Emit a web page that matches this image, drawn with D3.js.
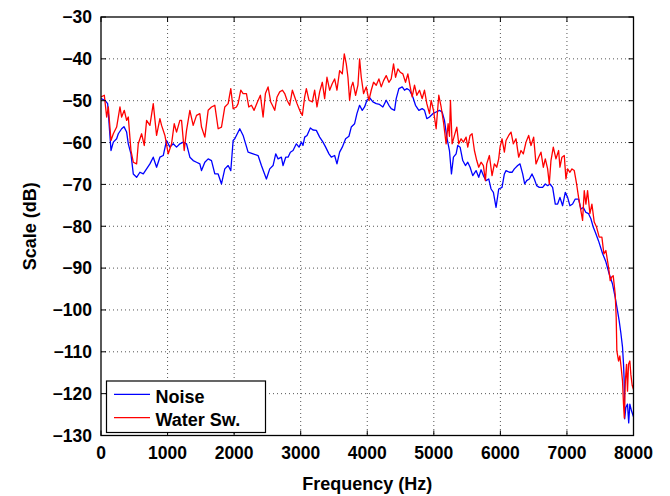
<!DOCTYPE html>
<html><head><meta charset="utf-8">
<script src="https://cdn.jsdelivr.net/npm/d3@7"></script>
<style>body{margin:0;background:#fff}svg{display:block}</style>
</head><body>
<svg id="c" width="670" height="496"></svg>
<script>
const xTicks = [0,1000,2000,3000,4000,5000,6000,7000,8000];
const yTicks = [-30,-40,-50,-60,-70,-80,-90,-100,-110,-120,-130];
const seriesNames = ["Noise","Water Sw."];
const seriesColors = ["#0000ff","#ff0000"];

const noiseHz = [0,60,100,150,185,235,260,310,345,385,410,450,485,535,585,635,685,735,785,835,885,935,985,1035,1085,1135,1185,1235,1285,1335,1385,1435,1485,1510,1560,1610,1660,1710,1760,1810,1860,1910,1950,1985,2010,2085,2135,2210,2285,2360,2410,2485,2535,2585,2625,2660,2710,2735,2775,2810,2845,2885,2935,2975,3010,3035,3060,3095,3145,3185,3235,3285,3335,3375,3425,3460,3510,3545,3585,3625,3675,3725,3760,3810,3845,3885,3925,3960,3995,4035,4085,4135,4185,4235,4285,4325,4360,4410,4435,4475,4525,4560,4595,4635,4685,4725,4775,4825,4860,4895,4935,4985,5035,5085,5125,5160,5195,5235,5265,5295,5335,5360,5395,5435,5475,5510,5545,5585,5635,5675,5710,5745,5785,5825,5860,5895,5935,5975,6025,6060,6085,6135,6175,6210,6260,6295,6335,6365,6395,6435,6475,6510,6545,6585,6635,6675,6710,6745,6785,6825,6860,6895,6935,6975,7010,7045,7085,7125,7175,7210,7245,7285,7325,7360,7395,7425,7475,7535,7585,7635,7685,7725,7760,7785,7810,7835,7850,7860,7868,7885,7910,7928,7945,7970,8000];
const noiseDb = [-49.5,-49.9,-50.7,-61.9,-59.9,-59.1,-57.9,-56.7,-56.2,-57.5,-60.3,-62.7,-67.5,-68.3,-67.1,-67.5,-66.3,-65.1,-63.5,-65.9,-63.5,-63.1,-59.5,-61.1,-60.3,-61.1,-60.3,-59.9,-60.3,-63.5,-64.3,-64.7,-65.1,-66.7,-64.7,-63.9,-64.3,-67.5,-67.5,-69.9,-66.3,-65.5,-66.7,-59.5,-59.1,-56.7,-58.3,-62.3,-62.7,-63.1,-65.5,-68.7,-66.3,-65.5,-62.7,-63.9,-63.5,-65.5,-63.5,-63.5,-62.3,-61.9,-60.3,-61.1,-59.9,-60.7,-58.7,-58.3,-56.5,-57.0,-57.1,-58.7,-59.9,-61.1,-62.7,-63.5,-63.1,-65.1,-62.3,-61.1,-59.1,-58.5,-56.3,-55.5,-53.1,-51.1,-52.3,-51.5,-49.9,-49.3,-50.3,-50.7,-50.9,-51.5,-49.9,-51.1,-51.9,-52.3,-49.5,-47.1,-46.7,-47.5,-47.1,-47.5,-49.1,-51.1,-52.3,-51.9,-52.3,-54.3,-53.9,-53.1,-52.7,-52.3,-52.7,-54.7,-58.7,-61.9,-67.5,-63.5,-62.7,-60.7,-61.1,-64.3,-65.5,-64.7,-65.9,-67.9,-66.7,-68.3,-66.5,-67.9,-69.1,-68.7,-71.1,-71.9,-75.5,-71.1,-70.7,-67.5,-66.7,-67.1,-67.1,-66.3,-65.5,-65.1,-67.5,-69.9,-69.1,-68.7,-67.5,-68.7,-70.3,-70.7,-70.7,-69.9,-70.3,-69.9,-70.7,-74.7,-74.7,-73.1,-75.1,-71.9,-73.1,-75.1,-74.7,-73.5,-73.5,-75.9,-75.5,-76.7,-77.0,-78.2,-80.2,-81.4,-83.5,-86.5,-88.5,-91.4,-93.8,-97.0,-100.2,-102.6,-105.5,-108.9,-112.9,-116.9,-126.0,-123.3,-122.5,-127.0,-122.5,-124.1,-125.5];

const waterHz = [0,50,85,110,150,185,235,285,310,350,385,410,450,485,535,560,610,650,685,735,785,835,885,910,960,1010,1060,1100,1135,1185,1210,1250,1285,1335,1385,1435,1485,1510,1560,1610,1660,1710,1760,1810,1860,1910,1950,1985,2035,2060,2100,2135,2185,2220,2260,2300,2350,2395,2435,2470,2510,2550,2575,2610,2645,2685,2725,2760,2795,2835,2875,2910,2945,2985,3025,3060,3085,3125,3175,3210,3245,3285,3325,3360,3395,3435,3475,3510,3545,3585,3625,3655,3685,3710,3735,3760,3785,3825,3860,3885,3910,3945,3985,4025,4060,4095,4135,4175,4210,4245,4285,4325,4360,4395,4425,4460,4495,4535,4575,4610,4645,4675,4710,4745,4785,4825,4860,4895,4935,4960,4995,5035,5075,5110,5145,5185,5215,5235,5250,5275,5310,5345,5375,5410,5445,5485,5510,5545,5575,5610,5645,5675,5710,5745,5775,5795,5835,5875,5910,5945,5975,5995,6025,6060,6085,6125,6160,6195,6235,6275,6310,6345,6385,6425,6460,6500,6535,6575,6610,6645,6675,6710,6735,6760,6795,6835,6875,6895,6925,6960,6985,7010,7045,7075,7110,7145,7175,7210,7235,7260,7285,7310,7345,7375,7410,7445,7485,7525,7555,7585,7625,7650,7670,7695,7725,7740,7750,7775,7795,7815,7835,7850,7862,7878,7895,7910,7925,7945,7960,7980,8000];
const waterDb = [-49.1,-48.7,-53.9,-51.5,-59.5,-57.9,-56.3,-51.5,-53.9,-52.3,-54.7,-53.9,-61.9,-64.7,-65.1,-60.3,-57.9,-60.7,-54.7,-55.9,-50.7,-58.3,-54.3,-55.9,-58.3,-62.7,-60.3,-55.5,-57.5,-54.7,-54.7,-61.9,-57.1,-52.3,-55.9,-53.5,-53.1,-56.3,-58.7,-52.3,-51.5,-51.1,-56.7,-56.3,-51.5,-50.7,-47.1,-51.9,-51.5,-50.7,-47.5,-48.3,-48.3,-51.5,-51.1,-52.3,-50.3,-48.7,-53.9,-48.3,-46.7,-50.3,-51.1,-52.3,-49.1,-47.9,-47.5,-48.3,-49.9,-51.1,-47.5,-49.1,-50.7,-52.3,-53.5,-49.1,-47.1,-49.9,-50.3,-47.5,-51.5,-47.9,-45.6,-49.5,-44.4,-47.5,-45.9,-44.8,-47.5,-42.8,-43.6,-38.8,-41.2,-44.4,-49.9,-46.7,-45.6,-48.7,-46.3,-40.0,-44.4,-48.3,-46.7,-49.9,-47.5,-45.6,-46.3,-44.8,-46.7,-45.2,-44.0,-45.6,-44.8,-41.2,-44.4,-42.4,-43.2,-43.6,-45.6,-43.6,-46.7,-49.1,-46.3,-48.7,-47.5,-49.5,-47.5,-50.7,-53.1,-49.9,-52.3,-56.7,-48.7,-51.5,-55.1,-60.3,-55.5,-58.5,-49.9,-60.3,-58.3,-56.3,-60.3,-59.1,-59.9,-58.7,-61.1,-58.3,-57.9,-61.9,-64.3,-65.9,-64.7,-65.5,-69.1,-65.1,-63.1,-67.9,-65.1,-65.9,-63.9,-61.1,-59.1,-62.3,-59.5,-58.3,-57.5,-60.3,-59.1,-63.5,-61.9,-62.7,-59.9,-58.3,-60.7,-58.7,-65.1,-63.5,-62.3,-65.9,-63.9,-66.3,-69.9,-64.3,-61.1,-63.9,-61.9,-65.9,-63.5,-63.1,-68.7,-66.3,-67.1,-66.3,-66.7,-69.9,-73.1,-76.3,-78.6,-71.5,-74.7,-71.5,-77.0,-74.7,-79.0,-80.2,-82.6,-82.6,-86.6,-85.8,-89.8,-93.0,-92.2,-91.8,-96.2,-101.8,-109.8,-112.2,-111.0,-113.8,-117.0,-122.5,-125.8,-117.0,-113.0,-119.4,-113.0,-112.2,-115.4,-118.0,-119.0];

const svg = d3.select("#c");
const m = {l:101, t:17, r:633.5, b:435.5};
const x = d3.scaleLinear().domain([0,8000]).range([m.l, m.r]);
const y = d3.scaleLinear().domain([-130,-30]).range([m.b, m.t]);
const font = "'Liberation Sans', Arial, sans-serif";
const fmt = d => (d<0 ? "\u2212"+Math.abs(d) : String(d));

svg.append("defs").append("clipPath").attr("id","clip")
  .append("rect").attr("x",m.l).attr("y",m.t).attr("width",m.r-m.l).attr("height",m.b-m.t);

// grid
const g = svg.append("g");
g.selectAll(".gx").data(xTicks.slice(1,-1)).enter().append("line")
  .attr("x1",d=>x(d)).attr("x2",d=>x(d)).attr("y1",m.t).attr("y2",m.b)
  .attr("stroke","#555").attr("stroke-width",1).attr("stroke-dasharray","1,3");
g.selectAll(".gy").data(yTicks.slice(1,-1)).enter().append("line")
  .attr("y1",d=>y(d)).attr("y2",d=>y(d)).attr("x1",m.l).attr("x2",m.r)
  .attr("stroke","#555").attr("stroke-width",1).attr("stroke-dasharray","1,3");

// lines
const line = d3.line().x(d=>x(d[0])).y(d=>y(d[1]));
const noise = noiseHz.map((h,i)=>[h,noiseDb[i]]);
const water = waterHz.map((h,i)=>[h,waterDb[i]]);
const plot = svg.append("g").attr("clip-path","url(#clip)");
[noise, water].forEach((s,i)=>{
  plot.append("path").datum(s).attr("d",line).attr("fill","none")
    .attr("stroke",seriesColors[i]).attr("stroke-width",1.3).attr("stroke-linejoin","round");
});

// axes (inward ticks, box)
const tl = 5;
const ax = svg.append("g");
ax.selectAll(".tb").data(xTicks).enter().append("line")
  .attr("x1",d=>x(d)).attr("x2",d=>x(d)).attr("y1",m.b).attr("y2",m.b-tl).attr("stroke","#000");
ax.selectAll(".tt").data(xTicks).enter().append("line")
  .attr("x1",d=>x(d)).attr("x2",d=>x(d)).attr("y1",m.t).attr("y2",m.t+tl).attr("stroke","#000");
ax.selectAll(".tl").data(yTicks).enter().append("line")
  .attr("y1",d=>y(d)).attr("y2",d=>y(d)).attr("x1",m.l).attr("x2",m.l+tl).attr("stroke","#000");
ax.selectAll(".tr").data(yTicks).enter().append("line")
  .attr("y1",d=>y(d)).attr("y2",d=>y(d)).attr("x1",m.r).attr("x2",m.r-tl).attr("stroke","#000");
ax.append("rect").attr("x",m.l).attr("y",m.t).attr("width",m.r-m.l).attr("height",m.b-m.t)
  .attr("fill","none").attr("stroke","#000").attr("stroke-width",1.3);

ax.selectAll(".xl").data(xTicks).enter().append("text")
  .attr("x",d=>x(d)).attr("y",459).attr("text-anchor","middle")
  .attr("font-family",font).attr("font-weight","bold").attr("font-size",17.5).text(fmt);
ax.selectAll(".yl").data(yTicks).enter().append("text")
  .attr("x",92).attr("y",d=>y(d)+6.3).attr("text-anchor","end")
  .attr("font-family",font).attr("font-weight","bold").attr("font-size",17.5).text(fmt);

svg.append("text").attr("x",(m.l+m.r)/2).attr("y",490).attr("text-anchor","middle")
  .attr("font-family",font).attr("font-weight","bold").attr("font-size",18).text("Frequency (Hz)");
svg.append("text").attr("transform",`translate(36,${(m.t+m.b)/2}) rotate(-90)`).attr("text-anchor","middle")
  .attr("font-family",font).attr("font-weight","bold").attr("font-size",18).text("Scale (dB)");

// legend
const lg = svg.append("g");
lg.append("rect").attr("x",106.5).attr("y",381).attr("width",159).attr("height",51.5)
  .attr("fill","#fff").attr("stroke","#000").attr("stroke-width",1.2);
seriesNames.forEach((n,i)=>{
  const yy = 394.3 + i*23.4;
  lg.append("line").attr("x1",114).attr("x2",150).attr("y1",yy).attr("y2",yy)
    .attr("stroke",seriesColors[i]).attr("stroke-width",1.3);
  lg.append("text").attr("x",155.5).attr("y",yy+8.4).attr("font-family",font)
    .attr("font-weight","bold").attr("font-size",18).text(n);
});
</script>
</body></html>
